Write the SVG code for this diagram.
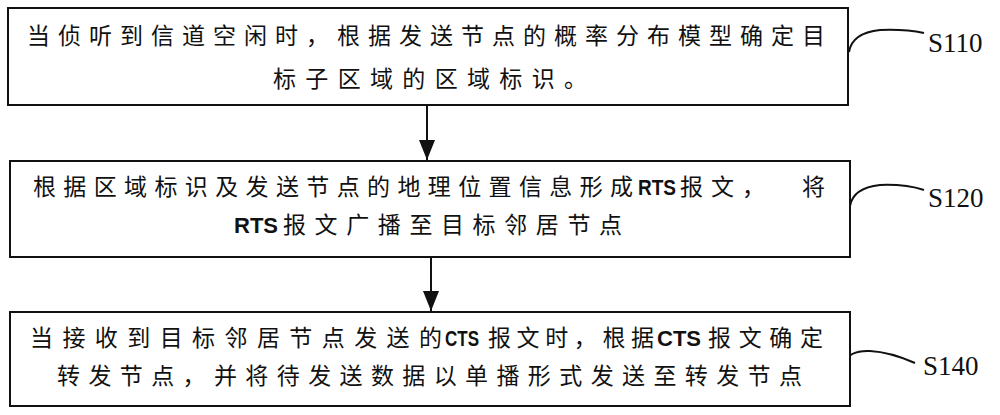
<svg xmlns="http://www.w3.org/2000/svg" width="1000" height="415" viewBox="0 0 1000 415">
<defs>
<style>
.box{fill:#fff;stroke:#111;stroke-width:2}
.cjk{font-family:"Noto Sans CJK SC","Noto Sans CJK JP",sans-serif;font-size:23px;fill:#111}
.lat{font-family:"Liberation Sans",Arial,sans-serif;font-weight:bold;font-size:22px;fill:#111}
.lbl{font-family:"Liberation Serif","Times New Roman",serif;font-size:27px;fill:#111}
.conn{fill:none;stroke:#111;stroke-width:2}
.lead{fill:none;stroke:#111;stroke-width:2}
</style>
<marker id="ah" viewBox="0 0 20 16" markerWidth="20" markerHeight="16" refX="20" refY="8" orient="auto" markerUnits="userSpaceOnUse">
<path d="M0,0 L20,8 L0,16 z" fill="#111"/>
</marker>
</defs>
<rect width="1000" height="415" fill="#fff"/>
<g id="connectors">
<line class="conn" x1="427" y1="106" x2="427" y2="160" marker-end="url(#ah)"/>
<line class="conn" x1="431" y1="258" x2="431" y2="311" marker-end="url(#ah)"/>
<path class="lead" d="M849,52 Q852,33 880,30 Q905,29 924,33"/>
<path class="lead" d="M850,206 Q853,188 880,185 Q905,184 924,190"/>
<path class="lead" d="M845,362 Q850,350 870,351 Q890,352 915,363"/>
</g>
<g id="s110">
<rect class="box" x="8" y="8" width="840" height="97"/>
<text class="cjk" x="27" y="44" textLength="798" lengthAdjust="spacing">当侦听到信道空闲时，根据发送节点的概率分布模型确定目</text>
<text class="cjk" x="273" y="87" textLength="314" lengthAdjust="spacing">标子区域的区域标识。</text>
<text class="lbl" x="928" y="52">S110</text>
</g>
<g id="s120">
<rect class="box" x="10" y="161" width="840" height="96"/>
<text class="cjk" x="33" y="195" textLength="600" lengthAdjust="spacing">根据区域标识及发送节点的地理位置信息形成</text>
<text class="lat" x="638" y="195" textLength="38" lengthAdjust="spacingAndGlyphs">RTS</text>
<text class="cjk" x="680" y="195" textLength="85" lengthAdjust="spacing">报文，</text>
<text class="cjk" x="802" y="195">将</text>
<text class="lat" x="234" y="233" textLength="44" lengthAdjust="spacingAndGlyphs">RTS</text>
<text class="cjk" x="283" y="233" textLength="339" lengthAdjust="spacing">报文广播至目标邻居节点</text>
<text class="lbl" x="928" y="207">S120</text>
</g>
<g id="s140">
<rect class="box" x="10" y="312" width="840" height="94"/>
<text class="cjk" x="30" y="346" textLength="412" lengthAdjust="spacing">当接收到目标邻居节点发送的</text>
<text class="lat" x="445" y="346" textLength="34" lengthAdjust="spacingAndGlyphs">CTS</text>
<text class="cjk" x="488" y="346" textLength="166" lengthAdjust="spacing">报文时，根据</text>
<text class="lat" x="657" y="346" textLength="44" lengthAdjust="spacingAndGlyphs">CTS</text>
<text class="cjk" x="708" y="346" textLength="115" lengthAdjust="spacing">报文确定</text>
<text class="cjk" x="57" y="384" textLength="745" lengthAdjust="spacing">转发节点，并将待发送数据以单播形式发送至转发节点</text>
<text class="lbl" x="923" y="375">S140</text>
</g>
</svg>
